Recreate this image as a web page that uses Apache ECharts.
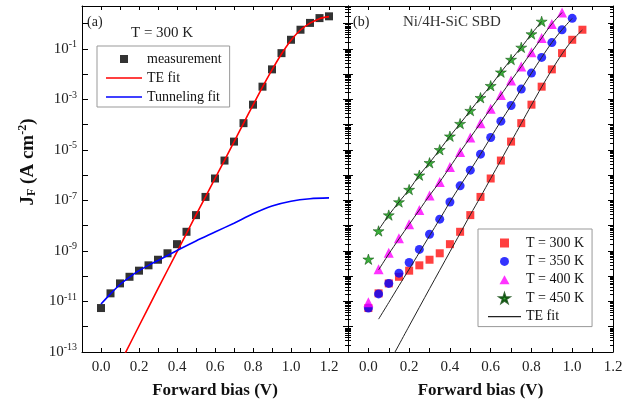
<!DOCTYPE html>
<html><head><meta charset="utf-8">
<script src="https://cdn.jsdelivr.net/npm/echarts@6/dist/echarts.min.js"></script>
<style>html,body{margin:0;padding:0;background:#fff}#c{width:643px;height:407px}</style>
</head><body><div id="c"></div>
<script>
// ---------- data ----------
const biasSteps = [0.00,0.05,0.10,0.15,0.20,0.25,0.30,0.35,0.40,0.45,0.50,0.55,0.60,0.65,0.70,0.75,0.80,0.85,0.90,0.95,1.00,1.05,1.10,1.15,1.20];
// T = 300 K measurement (A cm^-2)
const measured300 = [5.5e-12,2.1e-11,5.2e-11,9.5e-11,1.66e-10,2.7e-10,4.5e-10,8.1e-10,1.86e-9,5.75e-9,2.63e-8,1.38e-7,7.4e-7,3.8e-6,2.14e-5,1.15e-4,6.2e-4,3.2e-3,1.55e-2,6.8e-2,0.23,0.575,1.07,1.66,1.95];
// TE fit at 300 K
const teFitBias = [0.10,0.20,0.30,0.40,0.45,0.50,0.55,0.60,0.65,0.70,0.75,0.80,0.85,0.90,0.95,1.00,1.05,1.10,1.15,1.20];
const teFit300 = [3.5e-14,1.07e-12,3.2e-11,9.3e-10,5.0e-9,2.7e-8,1.38e-7,7.4e-7,3.9e-6,2.1e-5,1.12e-4,6.0e-4,3.1e-3,1.48e-2,6.3e-2,0.22,0.56,1.05,1.58,1.9];
// Tunneling fit at 300 K
const tunnelBias = [0.00,0.05,0.10,0.15,0.20,0.25,0.30,0.35,0.40,0.50,0.60,0.70,0.80,0.90,1.00,1.10,1.20];
const tunnelFit = [7.9e-12,2.0e-11,4.7e-11,9.3e-11,1.66e-10,2.7e-10,4.2e-10,6.6e-10,1.05e-9,2.5e-9,5.6e-9,1.26e-8,2.95e-8,6.0e-8,9.3e-8,1.17e-7,1.26e-7];
// other temperatures (measurement, from 0 V in 0.05 V steps)
const measured350 = [5.5e-12,2.0e-11,5.2e-11,1.32e-10,3.5e-10,1.15e-9,4.6e-9,1.82e-8,8.7e-8,3.8e-7,1.58e-6,6.8e-6,3.1e-5,1.38e-4,5.75e-4,2.57e-3,1.1e-2,4.6e-2,0.178,0.575,1.62];
const measured400 = [9.3e-12,1.9e-10,8.5e-10,3.16e-9,1.15e-8,4.2e-8,1.58e-7,5.4e-7,2.1e-6,8.3e-6,3.1e-5,1.15e-4,4.3e-4,1.5e-3,5.6e-3,2.0e-2,7.4e-2,0.27,0.98,2.75];
const measured450 = [4.7e-10,6.2e-9,2.63e-8,8.7e-8,2.7e-7,1.0e-6,3.1e-6,1.02e-5,3.5e-5,1.1e-4,3.6e-4,1.17e-3,3.5e-3,1.2e-2,3.8e-2,0.115,0.39,1.23];
// TE fits for other temperatures (from 0.05 V in 0.05 V steps)
const fit350 = [2.0e-12,9.1e-12,4.2e-11,1.9e-10,8.7e-10,4.0e-9,1.82e-8,8.7e-8,3.8e-7,1.58e-6,6.8e-6,3.1e-5,1.38e-4,5.75e-4,2.57e-3,1.1e-2,4.6e-2,0.178,0.575,1.62];
const fit400 = [1.78e-10,7.6e-10,3.0e-9,1.12e-8,4.2e-8,1.58e-7,5.4e-7,2.1e-6,8.3e-6,3.1e-5,1.15e-4,4.3e-4,1.5e-3,5.6e-3,2.0e-2,7.4e-2,0.27,0.98,2.75];
const fit450 = [6.8e-9,2.63e-8,8.7e-8,2.7e-7,1.0e-6,3.1e-6,1.02e-5,3.5e-5,1.1e-4,3.6e-4,1.17e-3,3.5e-3,1.2e-2,3.8e-2,0.115,0.39,1.23];
const xTickLabels = ['0.0','0.2','0.4','0.6','0.8','1.0','1.2'];

// ---------- helpers ----------
const pair = (xs, ys) => ys.map((y, i) => [xs[i], y]);
const fromStep = (start, ys) => pair(biasSteps.slice(biasSteps.indexOf(start)), ys);
const FONT = '"Liberation Serif","Times New Roman",serif';
const STAR = 'path://M50,0L61.2,34.5L97.6,34.5L68.2,55.9L79.4,90.5L50,69.1L20.6,90.5L31.8,55.9L2.4,34.5L38.8,34.5Z';
const SQUARE = 'path://M0,0H10V10H0Z';
const TRI = 'path://M5,0L10,9L0,9Z';
const LINEICON = 'path://M0,0H40V1.6H0Z';
const teFit300Right = pair(teFitBias, teFit300).filter(p => p[0] <= 1.051);

const xLab = v => {
  const k = Math.round(v * 10);
  const s = (k / 10).toFixed(1);
  return xTickLabels.indexOf(s) >= 0 ? s : '';
};
const yLab = v => {
  const e = Math.log10(v);
  const r = Math.round(e);
  if (Math.abs(e - r) > 1e-6 || Math.abs(r % 2) !== 1) return '';
  return '{a|10}{s|' + r + '}';
};

const tickStyle = {color: '#000', width: 1};
function xAx(grid, max, pos, showLabel, name) {
  return {
    gridIndex: grid, type: 'value', min: -0.1, max: max, interval: 0.1, position: pos,
    axisLine: {onZero: false, lineStyle: {color: '#000', width: 1}},
    axisTick: {inside: true, length: 4, lineStyle: tickStyle},
    axisLabel: {show: showLabel, formatter: xLab, fontFamily: FONT, fontSize: 15, color: '#222', margin: 8, showMinLabel: true, showMaxLabel: true},
    splitLine: {show: false},
    name: name || '', nameLocation: 'middle', nameGap: 30,
    nameTextStyle: {fontFamily: FONT, fontWeight: 'bold', fontSize: 17, color: '#111'}
  };
}
function yAx(grid, pos, opts) {
  return Object.assign({
    gridIndex: grid, type: 'log', logBase: 10, min: 1e-13, max: 5, interval: 1, position: pos,
    axisLine: {onZero: false, lineStyle: {color: '#000', width: 1}},
    axisTick: {inside: true, length: 5, lineStyle: tickStyle},
    axisLabel: {show: false},
    splitLine: {show: false},
    minorTick: {show: true, splitNumber: 10, length: 3, lineStyle: tickStyle},
    minorSplitLine: {show: false}
  }, opts);
}

const chart = echarts.init(document.getElementById('c'), null, {renderer: 'canvas'});
chart.setOption({
  animation: false,
  backgroundColor: '#fff',
  textStyle: {fontFamily: FONT},
  grid: [
    {left: 82, top: 6, width: 266, height: 346},
    {left: 348, top: 6, width: 265, height: 346}
  ],
  xAxis: [
    xAx(0, 1.3, 'bottom', true, 'Forward bias (V)'),
    xAx(0, 1.3, 'top', false),
    xAx(1, 1.2, 'bottom', true, 'Forward bias (V)'),
    xAx(1, 1.2, 'top', false)
  ],
  yAxis: [
    yAx(0, 'left', {
      minorTick: {show: false},
      axisTick: {inside: true, length: 6, lineStyle: tickStyle},
      axisLabel: {show: true, formatter: yLab, margin: 5,
        rich: {a: {fontFamily: FONT, fontSize: 15, color: '#222'},
               s: {fontFamily: FONT, fontSize: 10, color: '#222', padding: [0, 0, 9, 0]}}}
    }),
    yAx(0, 'right', {}),
    yAx(1, 'left', {}),
    yAx(1, 'right', {})
  ],
  legend: [
    {
      left: 97, top: 46, orient: 'vertical', selectedMode: false,
      padding: [6, 8, 3, 9], itemWidth: 36, itemHeight: 8, itemGap: 5,
      borderColor: '#999', borderWidth: 1,
      textStyle: {fontFamily: FONT, fontSize: 14, color: '#111', lineHeight: 14},
      data: [{name: 'measurement', icon: SQUARE}, {name: 'TE fit', icon: LINEICON}, {name: 'Tunneling fit', icon: LINEICON}]
    },
    {
      left: 478, top: 229, orient: 'vertical', selectedMode: false,
      padding: [7, 8, 3, 10], itemWidth: 33, itemHeight: 9, itemGap: 4.4,
      borderColor: '#999', borderWidth: 1,
      textStyle: {fontFamily: FONT, fontSize: 14, color: '#111', lineHeight: 14},
      formatter: n => n.trim(),
      data: [{name: 'T = 300 K', icon: SQUARE}, {name: 'T = 350 K', icon: 'circle'}, {name: 'T = 400 K', icon: TRI}, {name: 'T = 450 K', icon: STAR}, {name: 'TE fit ', icon: LINEICON}]
    }
  ],
  graphic: [
    {type: 'text', x: 87, y: 22, style: {text: '(a)', font: '14px ' + FONT, fill: '#222', verticalAlign: 'middle', textVerticalAlign: 'middle'}},
    {type: 'text', x: 131, y: 33, style: {text: 'T = 300 K', font: '15px ' + FONT, fill: '#222', verticalAlign: 'middle', textVerticalAlign: 'middle'}},
    {type: 'text', x: 353, y: 22, style: {text: '(b)', font: '14px ' + FONT, fill: '#222', verticalAlign: 'middle', textVerticalAlign: 'middle'}},
    {type: 'text', x: 403, y: 22, style: {text: 'Ni/4H-SiC SBD', font: '15px ' + FONT, fill: '#333', verticalAlign: 'middle', textVerticalAlign: 'middle'}},
    {type: 'text', x: 28, y: 162, rotation: Math.PI / 2,
     style: {text: '{j|J}{f|F}{j| (A cm}{s|-2}{j|)}', align: 'center', verticalAlign: 'middle', textAlign: 'center', textVerticalAlign: 'middle',
       rich: {j: {fontFamily: FONT, fontWeight: 'bold', fontSize: 19, fill: '#111', color: '#111'},
              f: {fontFamily: FONT, fontWeight: 'bold', fontSize: 12, fill: '#111', color: '#111', padding: [8, 0, 0, 0]},
              s: {fontFamily: FONT, fontWeight: 'bold', fontSize: 12, fill: '#111', color: '#111', padding: [0, 0, 10, 0]}}}}
  ],
  series: [
    // left panel
    {name: 'measurement', type: 'scatter', xAxisIndex: 0, yAxisIndex: 0, symbol: 'rect', symbolSize: 8,
     itemStyle: {color: '#000'}, data: pair(biasSteps, measured300), z: 2},
    {name: 'TE fit', type: 'line', xAxisIndex: 0, yAxisIndex: 0, symbol: 'none', smooth: 0.3, clip: true,
     lineStyle: {color: '#ff0000', width: 1.6}, itemStyle: {color: '#ff0000'}, data: pair(teFitBias, teFit300), z: 3},
    {name: 'Tunneling fit', type: 'line', xAxisIndex: 0, yAxisIndex: 0, symbol: 'none', smooth: 0.3, clip: true,
     lineStyle: {color: '#0000ff', width: 1.6}, itemStyle: {color: '#0000ff'}, data: pair(tunnelBias, tunnelFit), z: 3},
    // right panel
    {name: 'T = 300 K', type: 'scatter', xAxisIndex: 2, yAxisIndex: 2, symbol: 'rect', symbolSize: 8,
     itemStyle: {color: '#ff1010'}, data: pair(biasSteps.slice(0, 22), measured300.slice(0, 22)), z: 2},
    {name: 'T = 350 K', type: 'scatter', xAxisIndex: 2, yAxisIndex: 2, symbol: 'circle', symbolSize: 9,
     itemStyle: {color: '#0000ff'}, data: fromStep(0, measured350), z: 2},
    {name: 'T = 400 K', type: 'scatter', xAxisIndex: 2, yAxisIndex: 2, symbol: 'triangle', symbolSize: 10,
     itemStyle: {color: '#ff00ff'}, data: fromStep(0, measured400), z: 2},
    {name: 'T = 450 K', type: 'scatter', xAxisIndex: 2, yAxisIndex: 2, symbol: STAR, symbolSize: 11, symbolKeepAspect: true,
     itemStyle: {color: '#0a9a0a', borderColor: '#004000', borderWidth: 0.6}, data: fromStep(0, measured450), z: 2},
    {name: 'TE fit ', type: 'line', xAxisIndex: 2, yAxisIndex: 2, symbol: 'none', smooth: 0.3, clip: true,
     lineStyle: {color: '#222', width: 1}, itemStyle: {color: '#222'}, data: teFit300Right, z: 3},
    {name: 'TE fit ', type: 'line', xAxisIndex: 2, yAxisIndex: 2, symbol: 'none', smooth: 0.3, clip: true,
     lineStyle: {color: '#222', width: 1}, itemStyle: {color: '#222'}, data: fromStep(0.05, fit350), z: 3},
    {name: 'TE fit ', type: 'line', xAxisIndex: 2, yAxisIndex: 2, symbol: 'none', smooth: 0.3, clip: true,
     lineStyle: {color: '#222', width: 1}, itemStyle: {color: '#222'}, data: fromStep(0.05, fit400), z: 3},
    {name: 'TE fit ', type: 'line', xAxisIndex: 2, yAxisIndex: 2, symbol: 'none', smooth: 0.3, clip: true,
     lineStyle: {color: '#222', width: 1}, itemStyle: {color: '#222'}, data: fromStep(0.05, fit450), z: 3}
  ]
});
</script>
</body></html>
